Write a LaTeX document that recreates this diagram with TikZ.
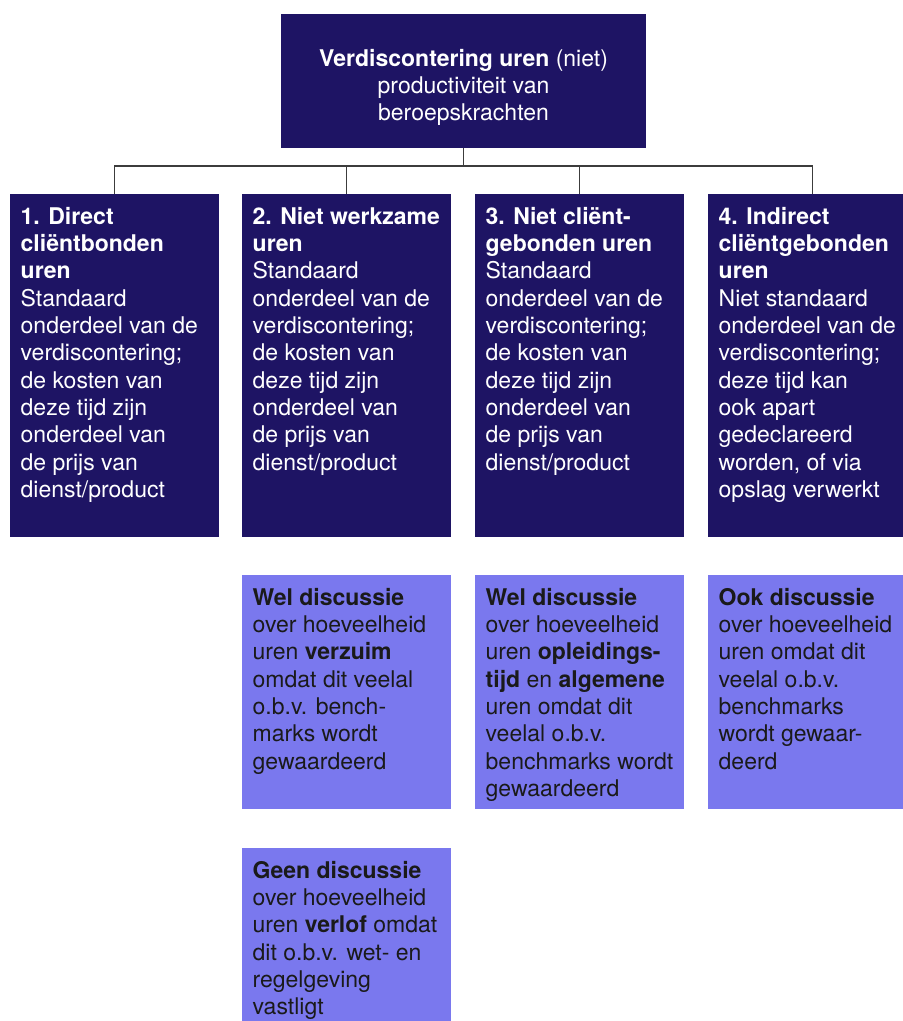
\documentclass[tikz,border=0pt]{standalone}
\usepackage{fontspec}
\setmainfont{TeX Gyre Heros}
\usetikzlibrary{positioning}

\definecolor{navy}{RGB}{30,20,100}
\definecolor{lila}{RGB}{122,120,238}
\definecolor{ink}{RGB}{26,26,26}
\definecolor{wire}{RGB}{60,60,60}

\tikzset{
  darkbox/.style={fill=navy, anchor=north west, inner sep=0pt, minimum width=209pt},
  lightbox/.style={fill=lila, anchor=north west, inner sep=0pt, minimum width=209pt},
  boxtext/.style={anchor=north west, align=left, inner xsep=10.5pt, inner ysep=13pt,
    font=\fontsize{23}{27.3}\selectfont},
  conn/.style={draw=wire, line width=1.2pt}
}

\begin{document}
\begin{tikzpicture}[x=1pt, y=-1pt]
\useasboundingbox (0,0) rectangle (903,1021);
% Top box
\node[fill=navy, minimum width=365pt, minimum height=134pt] (top) at (463.5,81) {};
\node[text=white, align=center, font=\fontsize{23}{27}\selectfont, yshift=-6pt] (toptext) at (top.center)
  {\textbf{Verdiscontering uren} (niet)\\productiviteit van\\beroepskrachten};
% Dark boxes
\node[darkbox, minimum height=343pt] (b1) at (10,194) {};
\node[darkbox, minimum height=343pt] (b2) at (242,194) {};
\node[darkbox, minimum height=343pt] (b3) at (475,194) {};
\node[darkbox, minimum height=343pt] (b4) at (708,194) {};
\node[boxtext, text=white] (t1) at (b1.north west) {\textbf{1. Direct}\\\textbf{cliëntbonden}\\\textbf{uren}\\Standaard\\onderdeel van de\\verdiscontering;\\de kosten van\\deze tijd zijn\\onderdeel van\\de prijs van\\dienst/product};
\node[boxtext, text=white] (t2) at (b2.north west) {\textbf{2. Niet werkzame}\\\textbf{uren}\\Standaard\\onderdeel van de\\verdiscontering;\\de kosten van\\deze tijd zijn\\onderdeel van\\de prijs van\\dienst/product};
\node[boxtext, text=white] (t3) at (b3.north west) {\textbf{3. Niet cliënt-}\\\textbf{gebonden uren}\\Standaard\\onderdeel van de\\verdiscontering;\\de kosten van\\deze tijd zijn\\onderdeel van\\de prijs van\\dienst/product};
\node[boxtext, text=white] (t4) at (b4.north west) {\textbf{4. Indirect}\\\textbf{cliëntgebonden}\\\textbf{uren}\\Niet standaard\\onderdeel van de\\verdiscontering;\\deze tijd kan\\ook apart\\gedeclareerd\\worden, of via\\opslag verwerkt};
% Light boxes
\node[lightbox, minimum height=234pt] (l2) at (242,575) {};
\node[lightbox, minimum height=234pt] (l3) at (475,575) {};
\node[lightbox, minimum height=234pt] (l4) at (708,575) {};
\node[lightbox, minimum height=182pt] (l5) at (242,848) {};
\node[boxtext, text=ink] (u2) at (l2.north west) {\textbf{Wel discussie}\\over hoeveelheid\\uren \textbf{verzuim}\\omdat dit veelal\\o.b.v. bench-\\marks wordt\\gewaardeerd};
\node[boxtext, text=ink] (u3) at (l3.north west) {\textbf{Wel discussie}\\over hoeveelheid\\uren \textbf{opleidings-}\\\textbf{tijd} en \textbf{algemene}\\uren omdat dit\\veelal o.b.v.\\benchmarks wordt\\gewaardeerd};
\node[boxtext, text=ink] (u4) at (l4.north west) {\textbf{Ook discussie}\\over hoeveelheid\\uren omdat dit\\veelal o.b.v.\\benchmarks\\wordt gewaar-\\deerd};
\node[boxtext, text=ink] (u5) at (l5.north west) {\textbf{Geen discussie}\\over hoeveelheid\\uren \textbf{verlof} omdat\\dit o.b.v. wet- en\\regelgeving\\vastligt};
% Connectors
\coordinate (bus) at (463.5,166);
\draw[conn] (top.south) -- (bus);
\draw[conn] (bus) -| (b1.north);
\draw[conn] (bus) -| (b2.north);
\draw[conn] (bus) -| (b3.north);
\draw[conn] (bus) -| (b4.north);
\end{tikzpicture}
\end{document}
